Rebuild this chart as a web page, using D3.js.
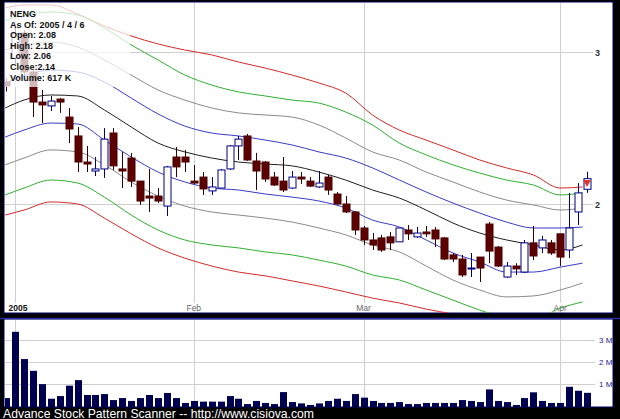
<!DOCTYPE html>
<html><head><meta charset="utf-8">
<script src="https://cdn.jsdelivr.net/npm/d3@7"></script>
<style>html,body{margin:0;padding:0;background:#000;}svg{display:block;}</style>
</head><body><svg id="c" width="620" height="419"></svg>
<script>
const symbol = "NENG";
const asOf = "2005 / 4 / 6";
const infoLines = ["NENG", "As Of: 2005 / 4 / 6", "Open: 2.08", "High: 2.18", "Low: 2.06", "Close:2.14", "Volume: 617 K"];
const opens  = [2.77,2.95,3.156,2.844,2.625,2.598,2.646,2.522,2.398,2.237,2.184,2.196,2.417,2.196,2.261,2.126,2.043,2.043,1.989,2.267,2.267,2.126,2.149,2.071,2.087,2.196,2.335,2.398,2.243,2.237,2.149,2.126,2.087,2.149,2.126,2.093,2.149,2.054,2.000,1.958,1.876,1.817,1.827,1.832,1.808,1.866,1.832,1.856,1.866,1.827,1.746,1.727,1.682,1.736,1.896,1.783,1.646,1.695,1.668,1.803,1.779,1.803,1.847,1.769,1.958,2.08];
const highs  = [2.80,3.20,3.181,2.859,2.711,2.668,2.653,2.584,2.456,2.335,2.267,2.449,2.449,2.298,2.292,2.126,2.196,2.087,2.214,2.329,2.310,2.219,2.178,2.149,2.196,2.341,2.398,2.411,2.292,2.243,2.178,2.267,2.184,2.178,2.149,2.184,2.161,2.065,2.043,1.963,1.886,1.851,1.842,1.856,1.876,1.891,1.881,1.886,1.881,1.832,1.755,1.746,1.755,1.736,1.906,1.788,1.713,1.708,1.817,1.886,1.837,1.817,1.847,2.060,2.115,2.18];
const lows   = [2.70,2.90,2.822,2.522,2.482,2.563,2.550,2.353,2.178,2.178,2.155,2.144,2.190,2.087,2.093,1.995,1.958,2.005,1.937,2.149,2.178,2.110,2.049,2.049,2.087,2.190,2.249,2.243,2.076,2.121,2.098,2.065,2.082,2.110,2.093,2.087,2.049,1.995,1.952,1.842,1.793,1.769,1.760,1.769,1.808,1.817,1.827,1.832,1.783,1.722,1.713,1.646,1.646,1.624,1.708,1.690,1.642,1.655,1.664,1.722,1.755,1.746,1.695,1.731,1.891,2.06];
const closes = [2.74,3.15,2.844,2.625,2.605,2.632,2.625,2.443,2.237,2.225,2.196,2.378,2.214,2.184,2.126,2.016,2.032,2.016,2.208,2.208,2.237,2.115,2.082,2.093,2.190,2.335,2.378,2.249,2.184,2.138,2.104,2.076,2.149,2.138,2.098,2.115,2.076,2.000,1.958,1.866,1.817,1.793,1.769,1.803,1.876,1.847,1.851,1.847,1.822,1.727,1.727,1.655,1.686,1.686,1.764,1.695,1.695,1.682,1.803,1.741,1.817,1.755,1.736,1.876,2.060,2.14];
const volumes = [0.38,3.37,2.14,1.61,1.01,0.35,0.47,0.94,1.19,0.52,0.52,0.56,0.29,0.38,0.25,0.38,0.52,0.38,0.61,0.38,0.16,0.25,0.22,0.22,0.22,0.47,0.35,0.11,0.25,0.16,0.11,0.65,0.20,0.14,0.07,0.14,0.25,0.35,0.25,0.56,0.40,0.25,0.16,0.16,0.20,0.11,0.11,0.16,0.16,0.16,0.16,0.29,0.25,0.20,0.77,0.25,0.20,0.07,0.38,0.64,0.25,0.16,0.16,0.89,0.71,0.617];
const monthTickIdx = [1, 21, 40, 62];
const monthTickLabels = ["2005", "Feb", "Mar", "Apr"];
const priceTicks = [2, 3];
const volumeTicks = [1, 2, 3];
const volumeTickLabels = ["1 M", "2 M", "3 M"];
const bandIdx = [-0.1,2,5,8,11,14,17,20,23,26,29,32,35,38,41,44,47,50,53,56,59,62,64.5];
const bandRedUp   = [3.374,3.401,3.401,3.320,3.215,3.131,3.065,3.016,2.977,2.921,2.874,2.821,2.762,2.689,2.536,2.436,2.372,2.310,2.249,2.202,2.161,2.087,2.093];
const bandGreenUp = [3.267,3.311,3.338,3.311,3.198,3.057,2.937,2.821,2.747,2.697,2.668,2.639,2.618,2.556,2.469,2.353,2.280,2.220,2.172,2.132,2.104,2.049,2.060];
const bandGrayUp  = [3.016,3.057,3.082,3.040,2.937,2.821,2.711,2.639,2.584,2.550,2.536,2.522,2.469,2.385,2.298,2.249,2.178,2.121,2.065,2.021,1.995,1.968,1.979];
const bandBlueUp  = [2.762,2.814,2.859,2.844,2.769,2.653,2.543,2.462,2.417,2.398,2.372,2.341,2.298,2.261,2.202,2.132,2.065,2.005,1.952,1.906,1.876,1.876,1.881];
const bandMid     = [2.584,2.639,2.675,2.668,2.570,2.456,2.353,2.298,2.261,2.237,2.225,2.214,2.178,2.132,2.076,2.032,1.968,1.901,1.851,1.817,1.793,1.769,1.793];
const bandBlueLo  = [2.391,2.436,2.482,2.476,2.372,2.267,2.178,2.121,2.087,2.076,2.054,2.037,2.016,1.979,1.916,1.881,1.817,1.755,1.713,1.668,1.668,1.690,1.708];
const bandGrayLo  = [2.220,2.261,2.310,2.298,2.220,2.121,2.043,1.989,1.958,1.942,1.926,1.906,1.876,1.842,1.793,1.760,1.695,1.633,1.590,1.561,1.565,1.590,1.620];
const bandGreenLo = [2.049,2.087,2.132,2.115,2.037,1.942,1.866,1.817,1.793,1.779,1.760,1.746,1.722,1.695,1.655,1.633,1.590,1.548,1.507,1.476,1.468,1.515,1.540];
const bandRedLo   = [1.942,1.968,2.011,2.000,1.926,1.847,1.779,1.731,1.695,1.668,1.651,1.629,1.607,1.582,1.556,1.536,1.511,1.491,1.468,1.449,1.437,1.449,1.476];
const bands = [
  {v: bandRedUp, c: "#d42a2a"}, {v: bandGreenUp, c: "#30b030"}, {v: bandGrayUp, c: "#8a8a8a"},
  {v: bandBlueUp, c: "#3a3ac8"}, {v: bandMid, c: "#202020"}, {v: bandBlueLo, c: "#3a3ac8"},
  {v: bandGrayLo, c: "#8a8a8a"}, {v: bandGreenLo, c: "#30b030"}, {v: bandRedLo, c: "#d42a2a"}
];

const svg = d3.select("#c");
const W = 620, H = 419;
const main = {x0: 5, x1: 613, y0: 3, y1: 313};
const vol = {x0: 5, x1: 613, y0: 320, y1: 407};

const x = d3.scaleLinear().domain([0, 65]).range([6.13, 587]);
const y = d3.scaleLog().domain([2, 3]).range([204, 52]);
const yv = d3.scaleLinear().domain([0, 3]).range([406.5, 340]);

svg.append("rect").attr("width", W).attr("height", H).attr("fill", "#000");
const defs = svg.append("defs");
defs.append("clipPath").attr("id", "cm").append("rect")
  .attr("x", main.x0).attr("y", main.y0).attr("width", main.x1 - main.x0).attr("height", main.y1 - main.y0);
defs.append("clipPath").attr("id", "cv").append("rect")
  .attr("x", vol.x0).attr("y", vol.y0).attr("width", vol.x1 - vol.x0).attr("height", vol.y1 - vol.y0);

svg.append("rect").attr("x", main.x0 - 1).attr("y", main.y0 - 1).attr("width", main.x1 - main.x0 + 1).attr("height", main.y1 - main.y0 + 1)
  .attr("fill", "#fff").attr("stroke", "#000066").attr("stroke-width", 1);
svg.append("rect").attr("x", vol.x0 - 1).attr("y", vol.y0 - 1).attr("width", vol.x1 - vol.x0 + 1).attr("height", vol.y1 - vol.y0 + 1)
  .attr("fill", "#fff").attr("stroke", "#000066").attr("stroke-width", 1);
svg.append("line").attr("x1", 0).attr("x2", W).attr("y1", 318.5).attr("y2", 318.5).attr("stroke", "#2a2aa0").attr("stroke-width", 1.5);

const gm = svg.append("g").attr("clip-path", "url(#cm)");
const gv = svg.append("g").attr("clip-path", "url(#cv)");

gm.selectAll("line.vg").data(monthTickIdx).join("line")
  .attr("x1", d => Math.round(x(d)) + 0.5).attr("x2", d => Math.round(x(d)) + 0.5)
  .attr("y1", main.y0).attr("y2", 303).attr("stroke", "#cfcfcf").attr("stroke-width", 1);
gm.selectAll("line.hg").data(priceTicks).join("line")
  .attr("x1", main.x0).attr("x2", 593).attr("y1", d => Math.round(y(d)) + 0.5).attr("y2", d => Math.round(y(d)) + 0.5)
  .attr("stroke", "#cfcfcf").attr("stroke-width", 1);

const line = d3.line().x(d => x(d[0])).y(d => y(d[1])).curve(d3.curveMonotoneX);
bands.forEach(b => {
  gm.append("path").attr("d", line(bandIdx.map((k, i) => [k, b.v[i]])))
    .attr("fill", "none").attr("stroke", b.c).attr("stroke-width", 1);
});

const idx = d3.range(opens.length);
const bw = 7;
const cg = gm.append("g");
idx.forEach(i => {
  const up = closes[i] >= opens[i];
  const cx = Math.round(x(i)) + 0.5;
  const col = up ? "#000080" : "#3a0000";
  cg.append("line").attr("x1", cx).attr("x2", cx).attr("y1", y(highs[i])).attr("y2", y(lows[i]))
    .attr("stroke", col).attr("stroke-width", 1);
  const top = y(Math.max(opens[i], closes[i])), bot = y(Math.min(opens[i], closes[i]));
  cg.append("rect").attr("x", cx - bw / 2).attr("y", top).attr("width", bw).attr("height", Math.max(1, bot - top))
    .attr("fill", up ? "#fff" : "#5c0000").attr("stroke", up ? "#000080" : "#4a0000").attr("stroke-width", 1);
});
const li = opens.length - 1;
const mx = x(li), my = y((opens[li] + closes[li]) / 2);
gm.append("path").attr("d", `M${mx - 4},${my - 4}L${mx + 4},${my - 4}L${mx},${my + 3}Z`).attr("fill", "#e03535");

gm.append("rect").attr("x", main.x0).attr("y", main.y0).attr("width", 125).attr("height", 84).attr("fill", "#fff").attr("opacity", 0.72);
svg.append("g").selectAll("text").data(infoLines).join("text")
  .attr("x", 10).attr("y", (d, i) => 17 + i * 10.6).text(d => d)
  .attr("font-family", "Liberation Sans, Arial, sans-serif").attr("font-size", 9).attr("font-weight", "bold").attr("fill", "#111");

svg.selectAll("text.pl").data(priceTicks).join("text").attr("class", "pl")
  .attr("x", 595).attr("y", d => y(d) + 3.5).text(d => d)
  .attr("font-family", "Liberation Sans, Arial, sans-serif").attr("font-size", 9).attr("font-weight", "bold").attr("fill", "#333");
svg.selectAll("text.ml").data(monthTickIdx).join("text").attr("class", "ml")
  .attr("x", (d, i) => i === 0 ? 18 : x(d)).attr("y", 311).attr("text-anchor", "middle")
  .text((d, i) => monthTickLabels[i])
  .attr("font-family", "Liberation Sans, Arial, sans-serif").attr("font-size", 8.5)
  .attr("font-weight", (d, i) => i === 0 ? "bold" : "normal").attr("fill", (d, i) => i === 0 ? "#111" : "#666");

gv.selectAll("line.vg").data(monthTickIdx).join("line")
  .attr("x1", d => Math.round(x(d)) + 0.5).attr("x2", d => Math.round(x(d)) + 0.5)
  .attr("y1", vol.y0).attr("y2", vol.y1).attr("stroke", "#cfcfcf");
gv.selectAll("line.hg").data(volumeTicks).join("line")
  .attr("x1", vol.x0).attr("x2", 595).attr("y1", d => Math.round(yv(d)) + 0.5).attr("y2", d => Math.round(yv(d)) + 0.5)
  .attr("stroke", "#cfcfcf");
gv.selectAll("rect.vb").data(idx).join("rect")
  .attr("x", i => Math.round(x(i)) - 3).attr("width", 7)
  .attr("y", i => yv(volumes[i])).attr("height", i => yv(0) - yv(volumes[i]) + 1).attr("fill", "#000050");
svg.selectAll("text.vl").data(volumeTicks).join("text").attr("class", "vl")
  .attr("x", 599).attr("y", d => yv(d) + 3).text((d, i) => volumeTickLabels[i])
  .attr("font-family", "Liberation Sans, Arial, sans-serif").attr("font-size", 8).attr("fill", "#1a1a90");

svg.append("text").attr("x", 3).attr("y", 417.5).text("Advance Stock Pattern Scanner -- http://www.cisiova.com")
  .attr("font-family", "Liberation Sans, Arial, sans-serif").attr("font-size", 12.5).attr("fill", "#fff")
  .attr("textLength", 311).attr("lengthAdjust", "spacingAndGlyphs");
</script></body></html>
